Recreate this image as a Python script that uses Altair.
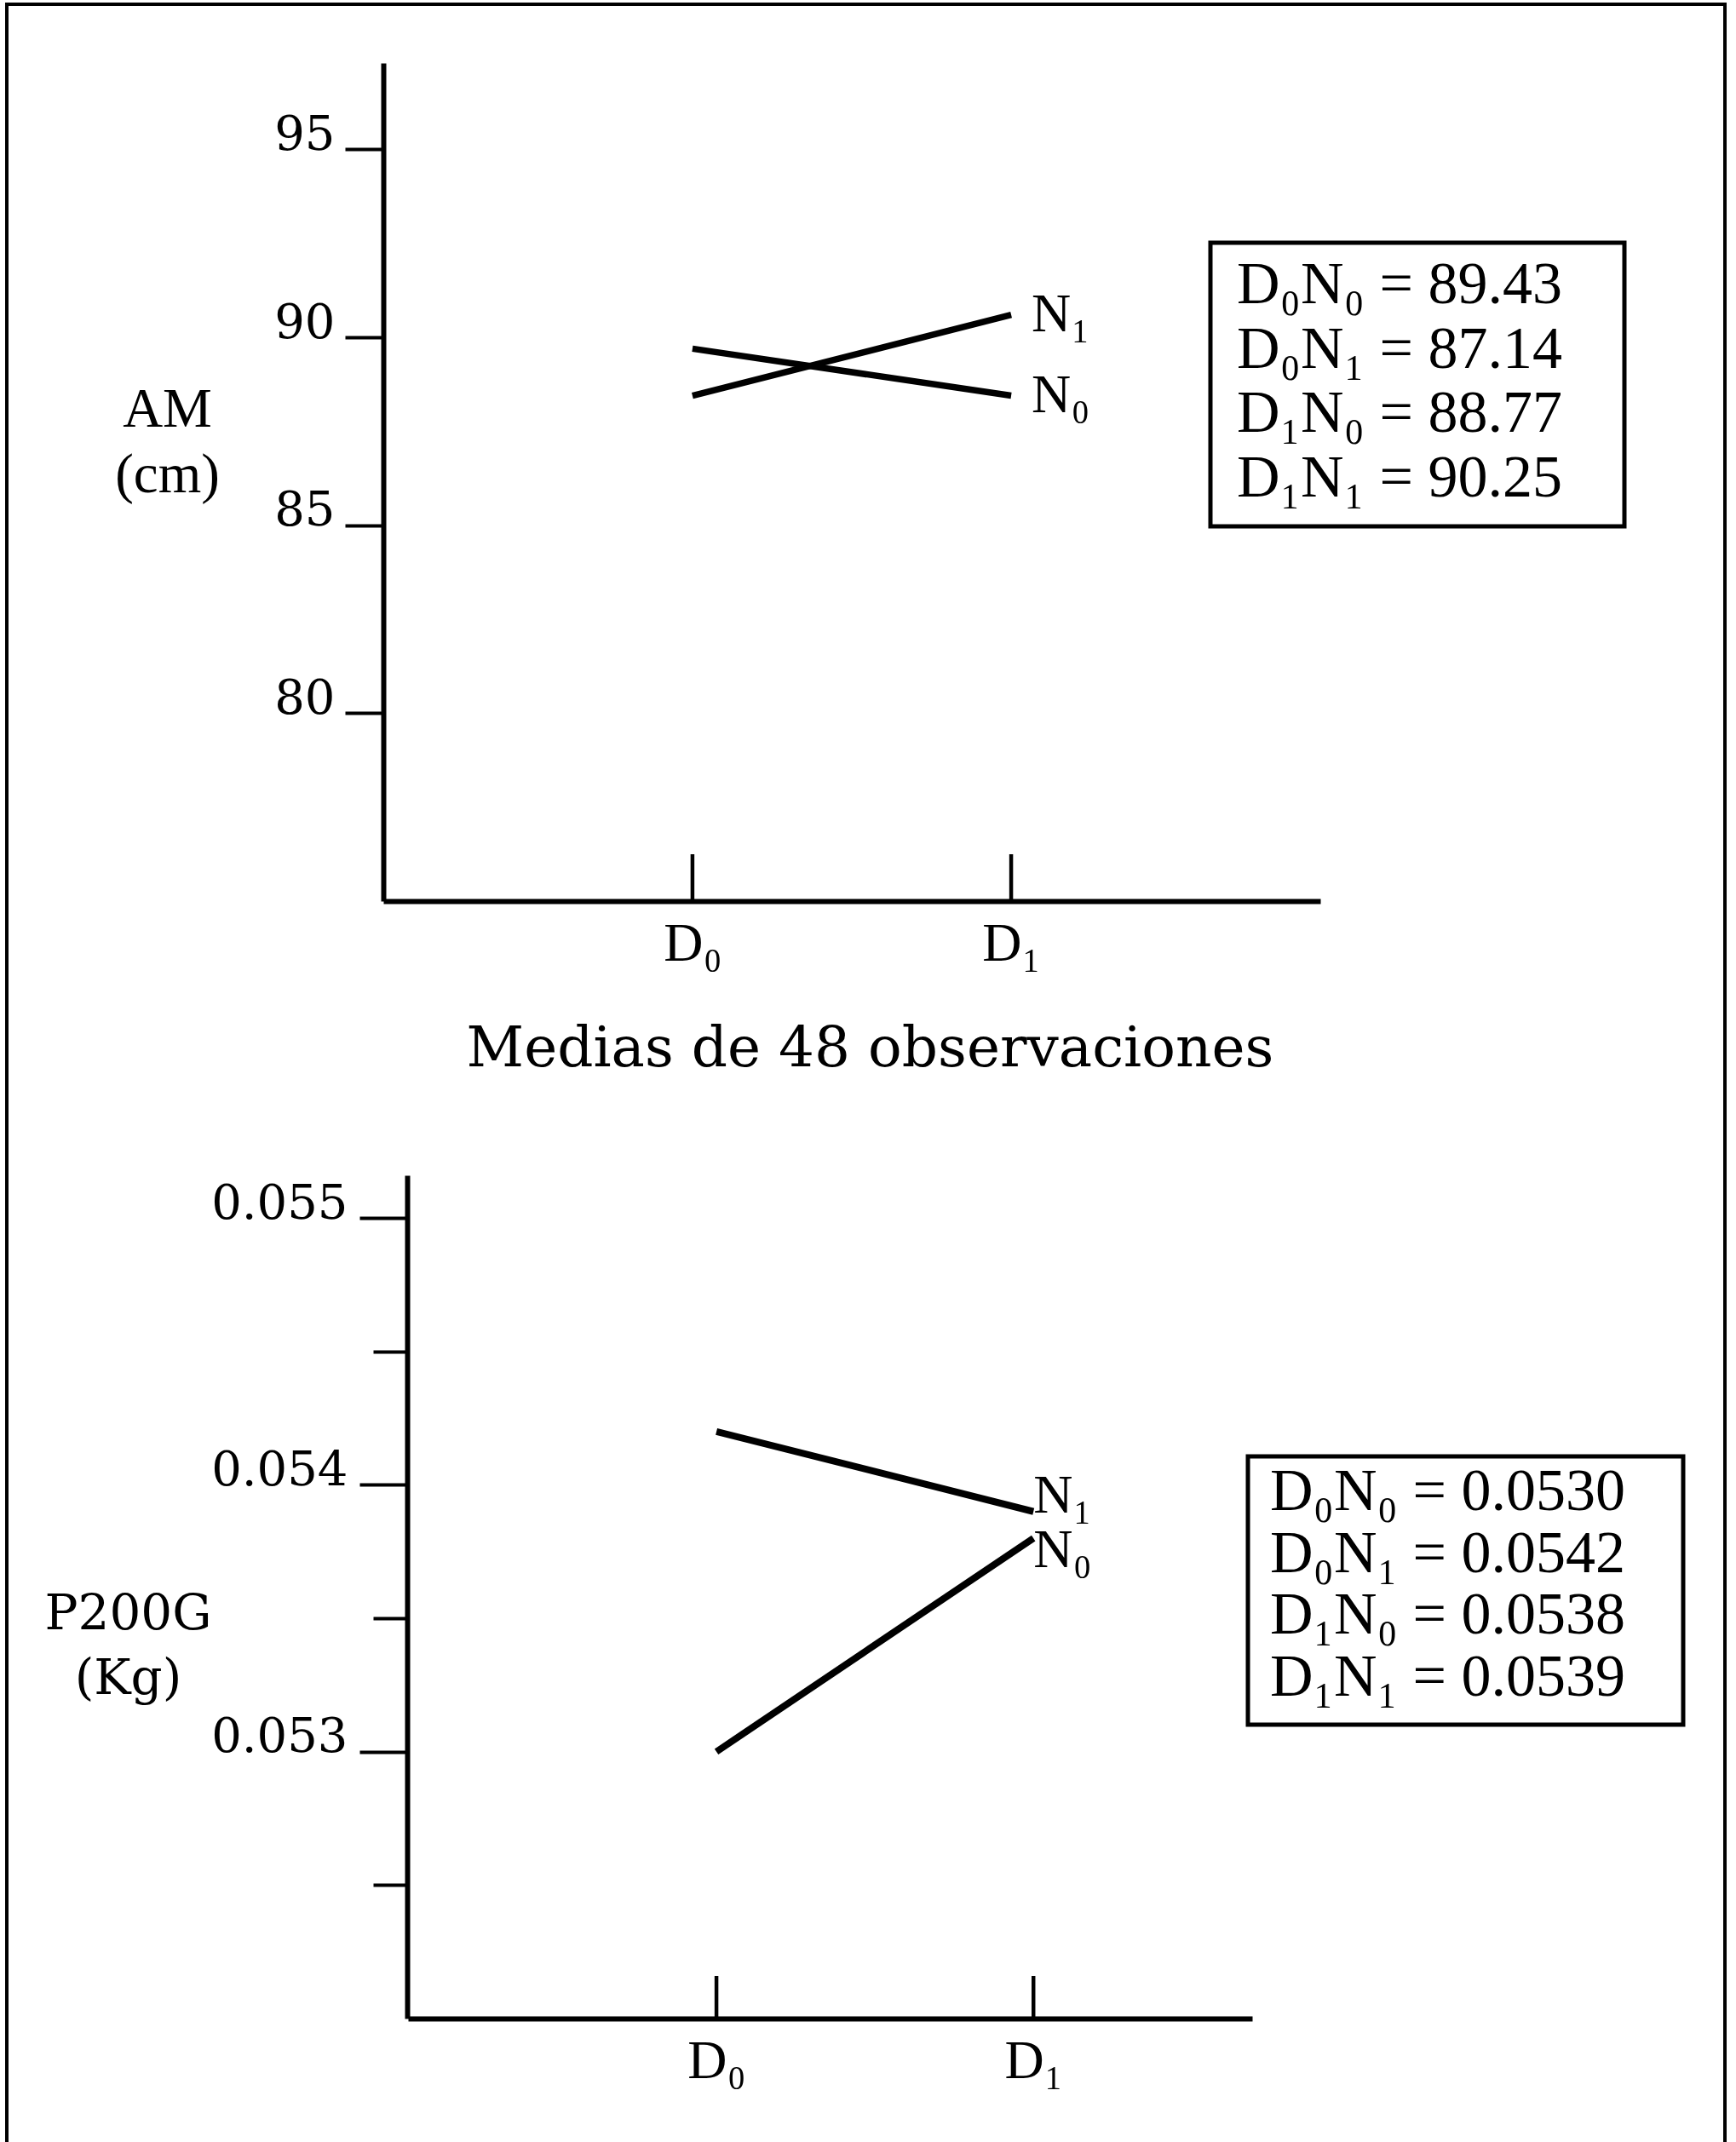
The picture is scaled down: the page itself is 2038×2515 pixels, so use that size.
import altair as alt
import pandas as pd

# ---------------- data ----------------
doses = ["D₀", "D₁"]
series = ["N₀", "N₁"]

am_n0 = [89.70, 88.45]
am_n1 = [88.45, 90.60]
p_n0 = [0.0530, 0.0538]
p_n1 = [0.0542, 0.0539]

am_box = ["D₀N₀ = 89.43", "D₀N₁ = 87.14", "D₁N₀ = 88.77", "D₁N₁ = 90.25"]
p_box = ["D₀N₀ = 0.0530", "D₀N₁ = 0.0542", "D₁N₀ = 0.0538", "D₁N₁ = 0.0539"]

am_ticks = [80, 85, 90, 95]
p_major = [0.053, 0.054, 0.055]
p_minor = [0.0525, 0.0535, 0.0545]

title_mid = "Medias de 48 observaciones"
am_title = ["AM", "(cm)"]
p_title = ["P200G", "(Kg)"]

# ---------------- tables ----------------
def long_df(n0, n1):
    rows = []
    for s, vals in zip(series, [n0, n1]):
        for i, d in enumerate(doses):
            rows.append({"xi": i + 1, "dose": d, "s": s, "v": vals[i]})
    return pd.DataFrame(rows)

top_df = long_df(am_n0, am_n1)
bot_df = long_df(p_n0, p_n1)
dose_df = pd.DataFrame({"xi": [i + 1 for i in range(len(doses))], "dose": doses})
top_end = top_df[top_df["xi"] == len(doses)]
bot_end = bot_df[bot_df["xi"] == len(doses)]
am_box_df = pd.DataFrame({"row": list(range(len(am_box))), "t": am_box})
p_box_df = pd.DataFrame({"row": list(range(len(p_box))), "t": p_box})
one = pd.DataFrame({"k": [0]})

# ---------------- style ----------------
W, H = 2038, 2515
SERIF = "Liberation Serif"
WIDE = "DejaVu Serif"
label_expr = f"datum.value == 1 ? '{doses[0]}' : '{doses[1]}'"

# top panel geometry
xs_top = alt.Scale(domain=[0.03, 2.97], range=[450, 1550], nice=False, zero=False)
ys_top = alt.Scale(domain=[75, 97.3], range=[1058, 74], nice=False, zero=False)
# bottom panel geometry
xs_bot = alt.Scale(domain=[0.027, 2.69], range=[479, 1470], nice=False, zero=False)
ys_bot = alt.Scale(domain=[0.052, 0.05516], range=[2370, 1380], nice=False, zero=False)


def x_axis(offset, title=None, title_y=0):
    kw = dict(
        orient="bottom", offset=offset, values=[1, 2], labelExpr=label_expr,
        ticks=False, tickSize=0, grid=False, domainColor="black", domainWidth=6,
        labelFont=SERIF, labelFontSize=64, labelColor="black", labelPadding=18,
        labelBaseline="top", labelOverlap=False, labelFlush=False,
    )
    if title:
        kw.update(title=title, titleFont=WIDE, titleFontSize=66, titleFontWeight="normal",
                  titleColor="black", titleX=1021, titleY=title_y, titleAlign="center",
                  titleBaseline="middle")
    else:
        kw.update(title=None)
    return alt.Axis(**kw)


x_axis_top = x_axis(1058 - H, title_mid, 1231 - 1058)
x_axis_bot = x_axis(2370 - H)

y_axis_top = alt.Axis(
    orient="left", offset=-450, values=am_ticks, format="d", grid=False,
    domainColor="black", domainWidth=6, tickColor="black", tickWidth=4, tickSize=45,
    labelFont=WIDE, labelFontSize=56, labelPadding=12, labelBaseline="alphabetic",
    labelColor="black", labelOverlap=False, labelFlush=False,
    title=am_title, titleFont=SERIF, titleFontSize=65, titleFontWeight="normal",
    titleColor="black", titleAngle=0, titleX=196 - 450, titleY=480,
    titleAlign="center", titleBaseline="middle", titleLineHeight=77,
)
y_axis_bot = alt.Axis(
    orient="left", offset=-478, values=p_major, format=".3f", grid=False,
    domainColor="black", domainWidth=6, tickColor="black", tickWidth=4, tickSize=56,
    labelFont=WIDE, labelFontSize=56, labelPadding=14, labelBaseline="alphabetic",
    labelColor="black", labelOverlap=False, labelFlush=False,
    title=p_title, titleFont=WIDE, titleFontSize=58, titleFontWeight="normal",
    titleColor="black", titleAngle=0, titleX=150 - 478, titleY=1895,
    titleAlign="center", titleBaseline="middle", titleLineHeight=76,
)
y_axis_minor = alt.Axis(
    orient="left", offset=-478, values=p_minor, grid=False, domain=False,
    labels=False, tickColor="black", tickWidth=4, tickSize=40, title=None,
)

layers = []

# ---------- top panel ----------
layers.append(
    alt.Chart(top_df).mark_line(color="black", strokeWidth=7.5, strokeCap="butt").encode(
        x=alt.X("xi:Q", scale=xs_top, axis=x_axis_top),
        y=alt.Y("v:Q", scale=ys_top, axis=y_axis_top),
        detail="s:N",
    )
)
layers.append(
    alt.Chart(dose_df).mark_rule(color="black", strokeWidth=4.5).encode(
        x=alt.X("xi:Q", scale=xs_top, axis=None),
        y=alt.value(1003), y2=alt.value(1058),
    )
)
layers.append(
    alt.Chart(top_end).mark_text(align="left", baseline="middle", dx=24, font=SERIF,
                                 fontSize=64, color="black").encode(
        x=alt.X("xi:Q", scale=xs_top, axis=None),
        y=alt.Y("v:Q", scale=ys_top, axis=None),
        text="s:N",
    )
)
layers.append(
    alt.Chart(one).mark_rect(filled=False, stroke="black", strokeWidth=5).encode(
        x=alt.value(1421), x2=alt.value(1907), y=alt.value(285), y2=alt.value(618)
    )
)
layers.append(
    alt.Chart(am_box_df).mark_text(align="left", baseline="middle", font=SERIF,
                                   fontSize=70, color="black").encode(
        x=alt.value(1452),
        y=alt.Y("row:Q", scale=alt.Scale(domain=[0, 3], range=[335, 562]), axis=None),
        text="t:N",
    )
)

# ---------- bottom panel ----------
layers.append(
    alt.Chart(bot_df).mark_line(color="black", strokeWidth=8, strokeCap="butt").encode(
        x=alt.X("xi:Q", scale=xs_bot, axis=x_axis_bot),
        y=alt.Y("v:Q", scale=ys_bot, axis=y_axis_bot),
        detail="s:N",
    )
)
layers.append(
    alt.Chart(pd.DataFrame({"v": p_minor})).mark_point(opacity=0).encode(
        x=alt.value(0),
        y=alt.Y("v:Q", scale=ys_bot, axis=y_axis_minor),
    )
)
layers.append(
    alt.Chart(dose_df).mark_rule(color="black", strokeWidth=4.5).encode(
        x=alt.X("xi:Q", scale=xs_bot, axis=None),
        y=alt.value(2320), y2=alt.value(2370),
    )
)
for s_name, dy in [(series[1], -18), (series[0], 15)]:
    layers.append(
        alt.Chart(bot_end[bot_end["s"] == s_name]).mark_text(
            align="left", baseline="middle", dx=0, dy=dy, font=SERIF, fontSize=64,
            color="black").encode(
            x=alt.X("xi:Q", scale=xs_bot, axis=None),
            y=alt.Y("v:Q", scale=ys_bot, axis=None),
            text="s:N",
        )
    )
layers.append(
    alt.Chart(one).mark_rect(filled=False, stroke="black", strokeWidth=5).encode(
        x=alt.value(1465), x2=alt.value(1976), y=alt.value(1710), y2=alt.value(2025)
    )
)
layers.append(
    alt.Chart(p_box_df).mark_text(align="left", baseline="middle", font=SERIF,
                                  fontSize=70, color="black").encode(
        x=alt.value(1491),
        y=alt.Y("row:Q", scale=alt.Scale(domain=[0, 3], range=[1752, 1970]), axis=None),
        text="t:N",
    )
)

# ---------- outer frame ----------
layers.append(
    alt.Chart(one).mark_rect(filled=False, stroke="black", strokeWidth=4).encode(
        x=alt.value(8), x2=alt.value(2025), y=alt.value(5), y2=alt.value(2580)
    )
)

chart = (
    alt.layer(*layers)
    .resolve_scale(x="independent", y="independent")
    .properties(width=W, height=H, padding=0, background="white",
                autosize=alt.AutoSizeParams(type="none"))
    .configure_view(stroke=None)
)

chart.save("out.html", embed_options={"renderer": "svg", "actions": False})
